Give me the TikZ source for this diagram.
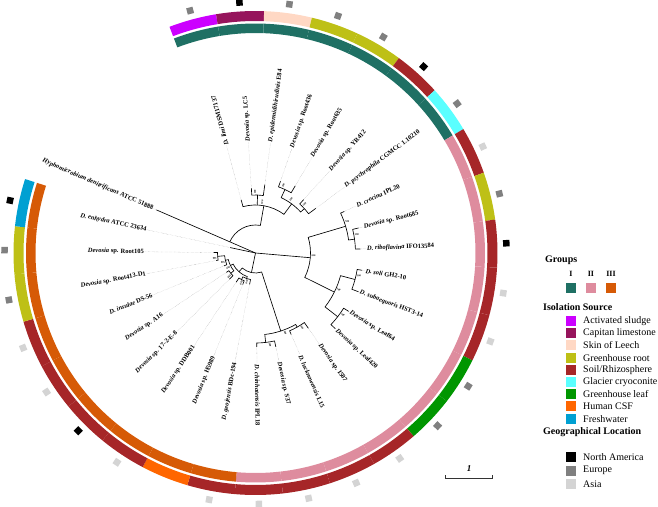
\documentclass[tikz,border=0pt]{standalone}
\usepackage{fontspec}
\setmainfont{Liberation Serif}
\usetikzlibrary{positioning}
\definecolor{grpone}{RGB}{31,112,100}
\definecolor{grptwo}{RGB}{222,140,158}
\definecolor{grpthree}{RGB}{214,90,6}
\definecolor{sludge}{RGB}{204,0,255}
\definecolor{limestone}{RGB}{150,20,92}
\definecolor{leech}{RGB}{255,216,196}
\definecolor{ghroot}{RGB}{190,192,22}
\definecolor{soil}{RGB}{166,38,40}
\definecolor{glacier}{RGB}{90,255,255}
\definecolor{ghleaf}{RGB}{0,150,0}
\definecolor{csf}{RGB}{255,102,0}
\definecolor{freshwater}{RGB}{0,160,210}
\definecolor{namerica}{RGB}{0,0,0}
\definecolor{europe}{RGB}{128,128,128}
\definecolor{asia}{RGB}{212,212,212}
% ring piece: angle, inner radius, outer radius, colour
\newcommand{\ringseg}[4]{%
  \fill[#4] (#1-5.715:#2) arc[start angle=#1-5.715, end angle=#1+5.715, radius=#2]
    -- (#1+5.715:#3) arc[start angle=#1+5.715, end angle=#1-5.715, radius=#3] -- cycle;}
% clade: radius, first child angle/radius, last child angle/radius
\newcommand{\clade}[5]{%
  \draw[branch] (#2:#3) -- (#2:#1) arc[start angle=#2, end angle=#4, radius=#1] -- (#4:#5);}
% bootstrap value at a node: angle, radius
\newcommand{\boot}[2]{\node[bootlab,rotate=#1] at (#1+2.5:#2+3) {100};}

\begin{document}
\begin{tikzpicture}[x=1pt,y=1pt,
    branch/.style={black,line width=0.65pt},
    leader/.style={densely dotted,black!45,line width=0.3pt},
    leaflab/.style={inner sep=0.5pt,font=\fontsize{6.5}{7}\selectfont\bfseries},
    bootlab/.style={inner sep=0pt,font=\fontsize{2.6}{3}\selectfont\bfseries},
    geo/.style={minimum size=6.5pt,inner sep=0pt},
    keybox/.style={minimum width=9.5pt,minimum height=10pt,inner sep=0pt,anchor=west},
    keyhead/.style={anchor=west,font=\fontsize{10}{11}\selectfont\bfseries,inner sep=0pt},
    keytext/.style={anchor=west,font=\fontsize{10}{11}\selectfont,inner sep=0pt}
  ]
  \useasboundingbox (-255.5,-253) rectangle (402.5,253);

  % rings: groups inside, isolation source outside
  \foreach \i/\g/\s in {1/grpone/sludge,2/grpone/limestone,3/grpone/leech,4/grpone/ghroot,
      5/grpone/ghroot,6/grpone/soil,7/grpone/glacier,8/grptwo/soil,9/grptwo/ghroot,
      10/grptwo/soil,11/grptwo/soil,12/grptwo/soil,13/grptwo/ghleaf,14/grptwo/ghleaf,
      15/grptwo/soil,16/grptwo/soil,17/grptwo/soil,18/grptwo/soil,19/grpthree/soil,
      20/grpthree/csf,21/grpthree/soil,22/grpthree/soil,23/grpthree/soil,24/grpthree/soil,
      25/grpthree/ghroot,26/grpthree/ghroot,27/grpthree/freshwater}{
    \pgfmathsetmacro\a{105.1-(\i-1)*11.43}
    \ringseg{\a}{220}{229.5}{\g}
    \ringseg{\a}{232}{242}{\s}
  }

  % geographical location
  \foreach \i/\c in {1/europe,2/namerica,3/europe,4/europe,5/europe,6/namerica,7/europe,
      8/asia,9/europe,10/namerica,11/asia,12/asia,13/europe,14/europe,15/asia,16/asia,
      17/asia,18/asia,19/asia,21/asia,22/namerica,23/asia,24/asia,25/europe,26/europe,
      27/namerica}{
    \pgfmathsetmacro\a{105.1-(\i-1)*11.43}
    \node[geo,fill=\c,rotate=\a] (sq\i) at (\a:251) {};
  }

  % tree: outgroup and group I
  \draw[branch] (0,0) -- (156.49:108);
  \draw[branch] (156.49:28) arc[start angle=156.49, end angle=80, radius=28] -- (80:48);
  \clade{70}{70.81}{76}{59.38}{78}
  \clade{66}{47.95}{72}{36.52}{75}
  \clade{61}{65.10}{70}{42.24}{66}
  \clade{58}{93.67}{65}{82.24}{69}
  \clade{48}{105.10}{55}{53.67}{61}
  \draw[branch] (87.96:48) -- (87.96:58);
  % group II
  \clade{100}{13.66}{106}{2.23}{105}
  \clade{94}{25.09}{98}{7.95}{100}
  \clade{103}{-9.20}{108}{-20.63}{110}
  \clade{104}{-32.06}{110}{-43.49}{110}
  \clade{88}{-14.92}{103}{-37.78}{104}
  \clade{55}{16.52}{94}{-26.35}{88}
  \draw[branch] (0,0) -- (-4.92:55);
  \clade{85}{-54.92}{92}{-66.35}{89}
  \clade{90}{-77.78}{96}{-89.21}{94}
  \clade{82}{-60.64}{85}{-83.50}{90}
  % group III
  \clade{38}{-169.22}{40}{-180.65}{42}
  \clade{31}{-157.79}{34}{-174.94}{38}
  \clade{32}{-134.93}{37}{-146.36}{35}
  \clade{28}{-140.65}{32}{-166.37}{31}
  \clade{30}{-112.07}{34}{-123.50}{35}
  \clade{27}{-100.64}{32}{-117.79}{30}
  \clade{25}{-109.21}{27}{-153.51}{28}
  \clade{20}{-72.07}{82}{-131.36}{25}
  \draw[branch] (0,0) -- (-101.72:20);
  \draw[branch] (0,0) -- (-192.08:26);

  % bootstrap values
  \foreach \a/\r in {65.10/70,42.24/66,53.67/61,87.96/58,80/48,7.95/100,16.52/94,
      -14.92/103,-37.78/104,-26.35/88,-4.92/55,-60.64/85,-83.50/90,-72.07/82,
      -174.94/38,-166.37/31,-140.65/32,-117.79/30,-109.21/27,-153.51/28}{
    \boot{\a}{\r}
  }

  % leaf labels
  \foreach \i/\t/\txt in {1/55/{\textit{D. limi} DSM17137},2/65/{\textit{Devosia} sp. LC5},
      3/69/{\textit{D. epidermidihirudinis} E84},4/76/{\textit{Devosia} sp. Root436},
      5/78/{\textit{Devosia} sp. Root635},6/72/{\textit{Devosia} sp. YR412},
      7/75/{\textit{D. psychrophila} CGMCC 1.10210},8/98/{\textit{D. crocina} IPL20},
      9/106/{\textit{Devosia} sp. Root685},10/105/{\textit{D. riboflavina} IFO13584},
      11/108/{\textit{D. soli} GH2-10},12/110/{\textit{D. subaequoris} HST3-14},
      13/110/{\textit{Devosia} sp. Leaf64},14/110/{\textit{Devosia} sp. Leaf420},
      15/92/{\textit{Devosia} sp. I507},16/89/{\textit{D. lucknowensis} L15},
      17/96/{\textit{Devosia} sp. S37},18/94/{\textit{D. chinhatensis} IPL18}}{
    \pgfmathsetmacro\a{105.1-(\i-1)*11.43}
    \coordinate (tip\i) at (\a:\t);
    \node[leaflab,anchor=west,rotate=\a] (lab\i) at (\a:111) {\txt};
    \draw[leader] (tip\i) -- (lab\i.west);
  }
  \foreach \i/\t/\txt in {19/32/{\textit{D. geojensis} BDc-194},20/34/{\textit{Devosia} sp. H5989},
      21/35/{\textit{Devosia} sp. DDB001},22/37/{\textit{Devosia} sp. 17-2-E-8},
      23/35/{\textit{Devosia} sp. A16},24/34/{\textit{D. insulae} DS-56},
      25/40/{\textit{Devosia} sp. Root413-D1},26/42/{\textit{Devosia} sp. Root105},
      27/26/{\textit{D. enhydra} ATCC 23634},
      28/108/{\textit{Hyphomicrobium denitrificans} ATCC 51888}}{
    \pgfmathsetmacro\a{105.1-(\i-1)*11.43}
    \coordinate (tip\i) at (\a:\t);
    \node[leaflab,anchor=east,rotate=\a+180] (lab\i) at (\a:111) {\txt};
    \draw[leader] (tip\i) -- (lab\i.east);
  }

  % legend
  \node[keyhead] (groups) at (289.5,-7) {Groups};
  \foreach \x/\c/\n in {310.5/grpone/I,330.5/grptwo/II,350.5/grpthree/III}{
    \node[keybox,fill=\c] (g\n) at (\x,-35) {};
    \node[font=\fontsize{8}{9}\selectfont\bfseries,above=3pt of g\n] {\n};
  }
  \node[keyhead] (source) at (287.5,-54) {Isolation Source};
  \foreach \k/\c/\txt in {0/sludge/{Activated sludge},1/limestone/{Capitan limestone},
      2/leech/{Skin of Leech},3/ghroot/{Greenhouse root},4/soil/{Soil/Rhizosphere},
      5/glacier/{Glacier cryoconite},6/ghleaf/{Greenhouse leaf},7/csf/{Human CSF},
      8/freshwater/{Freshwater}}{
    \node[keybox,fill=\c] (s\k) at (310.5,-68-12.2*\k) {};
    \node[keytext] at (327.5,-68-12.2*\k) {\txt};
  }
  \node[keyhead] (location) at (287.5,-179) {Geographical Location};
  \foreach \k/\c/\txt in {0/namerica/{North America},1/europe/{Europe},2/asia/{Asia}}{
    \node[keybox,fill=\c] (l\k) at (310.5,-204-13.5*\k) {};
    \node[keytext] at (327.5,-204-13.5*\k) {\txt};
  }

  % scale bar
  \coordinate (bar1) at (190.2,-225.3);
  \coordinate (bar2) at (237.2,-225.3);
  \draw[black!80,line width=0.6pt] ([yshift=3pt]bar1) -- (bar1) -- (bar2) -- ([yshift=3pt]bar2);
  \node[font=\fontsize{9}{10}\selectfont\bfseries\itshape] at (213.5,-216) {1};
\end{tikzpicture}
\end{document}
